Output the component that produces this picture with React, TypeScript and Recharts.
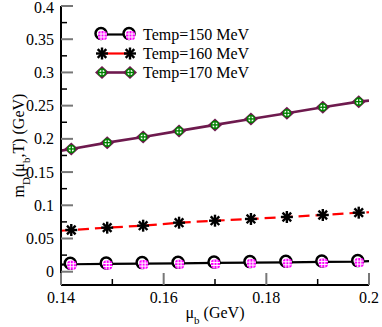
import React from 'react';
import {
  ComposedChart,
  Line,
  Scatter,
  XAxis,
  YAxis,
  Legend,
  Label,
} from 'recharts';

// baryon chemical potential (GeV) where the points were computed
const mu = [0.142, 0.149, 0.156, 0.163, 0.17, 0.177, 0.184, 0.191, 0.198];
// the curves run on to the frame, these are their ends
const muEnds = [0.14, 0.2];

// Debye mass (GeV) at each temperature
const mD150 = [0.0112, 0.0117, 0.0122, 0.0127, 0.0132, 0.0137, 0.0142, 0.0147, 0.0152];
const mD160 = [0.0628, 0.0663, 0.0693, 0.0738, 0.0768, 0.0794, 0.0824, 0.0854, 0.0889];
const mD170 = [0.1848, 0.1943, 0.2029, 0.212, 0.221, 0.23, 0.2386, 0.2476, 0.256];
const ends150 = [0.0106, 0.0158];
const ends160 = [0.0617, 0.0895];
const ends170 = [0.1822, 0.2575];

const xMajor = [0.14, 0.16, 0.18, 0.2];
const xMinor = [0.15, 0.17, 0.19];
const xLabels = ['0.14', '0.16', '0.18', '0.2'];
const yMajor = [0, 0.05, 0.1, 0.15, 0.2, 0.25, 0.3, 0.35, 0.4];
const yMinor = [0.025, 0.075, 0.125, 0.175, 0.225, 0.275, 0.325, 0.375];
const yLabels = ['0', '0.05', '0.1', '0.15', '0.2', '0.25', '0.3', '0.35', '0.4'];

const FONT = '"Liberation Serif", "DejaVu Serif", serif';
const MAROON = '#6e1a4e';

const points = (ys: number[]) => mu.map((x, i) => ({ x, y: ys[i] }));
const curve = (ys: number[], ends: number[]) => [
  { x: muEnds[0], y: ends[0] },
  ...points(ys),
  { x: muEnds[1], y: ends[1] },
];

const CircleMark = ({ cx, cy }: any) => (
  <g>
    <circle cx={cx - 1} cy={cy - 1} r={5.5} fill="#fff" stroke="#000" strokeWidth={2.5} />
    <rect x={cx - 4} y={cy - 3.5} width={9} height={9} rx={3} fill="#ff00ff" />
    <line x1={cx - 1} y1={cy - 3.5} x2={cx - 1} y2={cy + 5.5} stroke="#fff" strokeWidth={1} />
    <line x1={cx + 2} y1={cy - 3.5} x2={cx + 2} y2={cy + 5.5} stroke="#fff" strokeWidth={1} />
    <line x1={cx - 4} y1={cy - 0.5} x2={cx + 5} y2={cy - 0.5} stroke="#fff" strokeWidth={1} />
    <line x1={cx - 4} y1={cy + 2.5} x2={cx + 5} y2={cy + 2.5} stroke="#fff" strokeWidth={1} />
  </g>
);

const StarMark = ({ cx, cy }: any) => (
  <g stroke="#000" strokeWidth={2.4}>
    <line x1={cx - 6} y1={cy} x2={cx + 6} y2={cy} />
    <line x1={cx} y1={cy - 6} x2={cx} y2={cy + 6} />
    <line x1={cx - 4.3} y1={cy - 4.3} x2={cx + 4.3} y2={cy + 4.3} />
    <line x1={cx - 4.3} y1={cy + 4.3} x2={cx + 4.3} y2={cy - 4.3} />
    <circle cx={cx} cy={cy} r={2} fill="#000" stroke="none" />
  </g>
);

const DiamondMark = ({ cx, cy }: any) => (
  <g>
    <polygon
      points={`${cx},${cy - 6.5} ${cx + 7},${cy} ${cx},${cy + 6.5} ${cx - 7},${cy}`}
      fill={MAROON}
    />
    <circle cx={cx} cy={cy} r={3.5} fill="#fff" stroke="#008000" strokeWidth={1.6} />
    <line x1={cx - 3.5} y1={cy} x2={cx + 3.5} y2={cy} stroke="#008000" strokeWidth={1.4} />
    <line x1={cx} y1={cy - 3.5} x2={cx} y2={cy + 3.5} stroke="#008000" strokeWidth={1.4} />
  </g>
);

const series = [
  { name: 'Temp=150 MeV', data: mD150, ends: ends150, color: '#000', dash: undefined, width: 2.2, Mark: CircleMark },
  { name: 'Temp=160 MeV', data: mD160, ends: ends160, color: '#ff0000', dash: '11 6', width: 2.2, Mark: StarMark },
  { name: 'Temp=170 MeV', data: mD170, ends: ends170, color: MAROON, dash: undefined, width: 2.6, Mark: DiamondMark },
];

// ticks point into the plot; majors are grey and long, minors black and short
const makeTick = (side: 'left' | 'right' | 'top' | 'bottom', majors: number[], labels?: string[]) =>
  (props: any) => {
    const { x, y, payload } = props;
    const idx = majors.indexOf(payload.value);
    const major = idx >= 0;
    const len = major ? 12 : 6;
    const stroke = major ? '#777' : '#000';
    const sw = major ? 2 : 1.5;
    let line;
    if (side === 'left') line = <line x1={x} y1={y} x2={x + len} y2={y} stroke={stroke} strokeWidth={sw} />;
    else if (side === 'right') line = <line x1={x} y1={y} x2={x - len} y2={y} stroke={stroke} strokeWidth={sw} />;
    else if (side === 'bottom') line = <line x1={x} y1={y} x2={x} y2={y - len} stroke={stroke} strokeWidth={sw} />;
    else line = <line x1={x} y1={y} x2={x} y2={y + len} stroke={stroke} strokeWidth={sw} />;
    let text = null;
    if (labels && major) {
      if (side === 'left')
        text = (
          <text x={x - 7} y={Math.max(y + 5.5, 13)} textAnchor="end" fontFamily={FONT} fontSize={16} fill="#000">
            {labels[idx]}
          </text>
        );
      else
        text = (
          <text x={x} y={y + 18} textAnchor="middle" fontFamily={FONT} fontSize={16} fill="#000">
            {labels[idx]}
          </text>
        );
    }
    return (
      <g>
        {line}
        {text}
      </g>
    );
  };

const LegendBox = () => (
  <div style={{ fontFamily: FONT, fontSize: 16, color: '#000' }}>
    {series.map((s) => (
      <div key={s.name} style={{ display: 'flex', alignItems: 'center', height: 19 }}>
        <svg width={44} height={19} style={{ overflow: 'visible' }}>
          <line x1={7} y1={9.5} x2={35} y2={9.5} stroke={s.color} strokeWidth={s.width} />
          <s.Mark cx={7} cy={9.5} />
          <s.Mark cx={35} cy={9.5} />
        </svg>
        <span style={{ marginLeft: 4, lineHeight: '19px', whiteSpace: 'nowrap' }}>{s.name}</span>
      </div>
    ))}
  </div>
);

const XTitle = ({ viewBox }: any) => (
  <text
    x={viewBox.x + viewBox.width / 2}
    y={viewBox.y + 33}
    textAnchor="middle"
    fontFamily={FONT}
    fontSize={16}
    fill="#000"
  >
    μ<tspan baselineShift="sub" fontSize={11}>b</tspan>
    <tspan> (GeV)</tspan>
  </text>
);

const YTitle = ({ viewBox }: any) => {
  const cx = 24;
  const cy = viewBox.y + viewBox.height / 2;
  return (
    <text
      x={cx}
      y={cy}
      transform={`rotate(-90 ${cx} ${cy})`}
      textAnchor="middle"
      fontFamily={FONT}
      fontSize={16}
      fill="#000"
    >
      m<tspan baselineShift="sub" fontSize={11}>D</tspan>
      <tspan>(μ</tspan>
      <tspan baselineShift="sub" fontSize={11}>b</tspan>
      <tspan>,T) (GeV)</tspan>
    </text>
  );
};

const axisLine = { stroke: '#000', strokeWidth: 2 };
const xTicks = [...xMajor, ...xMinor].sort((a, b) => a - b);
const yTicks = [...yMajor, ...yMinor].sort((a, b) => a - b);

export default function App() {
  return (
    <div style={{ position: 'absolute', left: 0, top: 0, background: '#fff' }}>
      <ComposedChart width={382} height={327} margin={{ top: 6, right: 13, bottom: 0, left: 0 }}>
        <XAxis
          xAxisId="b"
          orientation="bottom"
          type="number"
          dataKey="x"
          domain={[0.14, 0.2]}
          allowDataOverflow
          ticks={xTicks}
          interval={0}
          height={42}
          tickSize={0}
          tickMargin={0}
          tickLine={false}
          axisLine={axisLine}
          tick={makeTick('bottom', xMajor, xLabels)}
        >
          <Label content={XTitle} />
        </XAxis>
        <XAxis
          xAxisId="t"
          orientation="top"
          type="number"
          dataKey="x"
          domain={[0.14, 0.2]}
          allowDataOverflow
          ticks={xTicks}
          interval={0}
          height={0}
          tickSize={0}
          tickMargin={0}
          tickLine={false}
          axisLine={axisLine}
          tick={makeTick('top', xMajor)}
        />
        <YAxis
          yAxisId="l"
          orientation="left"
          type="number"
          domain={[-0.02, 0.4]}
          allowDataOverflow
          ticks={yTicks}
          interval={0}
          width={61}
          tickSize={0}
          tickMargin={0}
          tickLine={false}
          axisLine={axisLine}
          tick={makeTick('left', yMajor, yLabels)}
        >
          <Label content={YTitle} />
        </YAxis>
        <YAxis
          yAxisId="r"
          orientation="right"
          type="number"
          domain={[-0.02, 0.4]}
          allowDataOverflow
          ticks={yTicks}
          interval={0}
          width={0}
          tickSize={0}
          tickMargin={0}
          tickLine={false}
          axisLine={axisLine}
          tick={makeTick('right', yMajor)}
        />
        {series.map((s) => (
          <Line
            key={`line-${s.name}`}
            xAxisId="b"
            yAxisId="l"
            data={curve(s.data, s.ends)}
            dataKey="y"
            stroke={s.color}
            strokeWidth={s.width}
            strokeDasharray={s.dash}
            dot={false}
            activeDot={false}
            isAnimationActive={false}
            legendType="none"
          />
        ))}
        {series.map((s) => (
          <Scatter
            key={`pts-${s.name}`}
            xAxisId="b"
            yAxisId="l"
            data={points(s.data)}
            dataKey="y"
            shape={s.Mark}
            isAnimationActive={false}
            legendType="none"
          />
        ))}
        <Legend
          layout="vertical"
          align="center"
          verticalAlign="middle"
          content={LegendBox}
          wrapperStyle={{ top: 25, left: 95, width: 'auto' }}
        />
      </ComposedChart>
    </div>
  );
}
